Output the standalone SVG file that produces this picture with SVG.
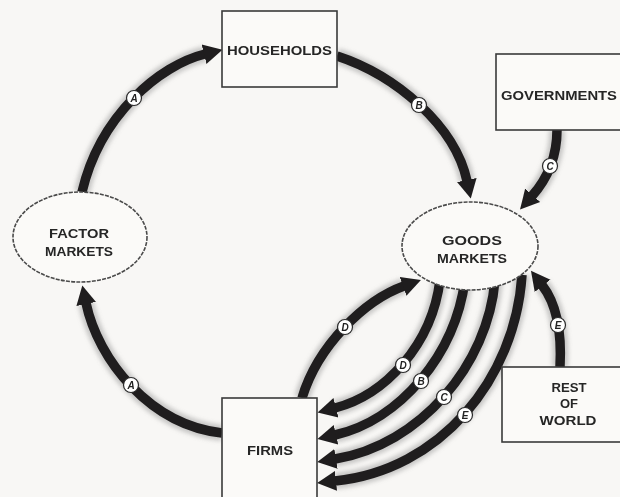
<svg xmlns="http://www.w3.org/2000/svg" width="620" height="497" viewBox="0 0 620 497">
  <style>
    .box { fill: #fbfaf8; stroke: #3a3a3a; stroke-width: 1.6; }
    .ell { fill: #fbfaf8; stroke: #4a4a4a; stroke-width: 1.6; stroke-dasharray: 4 1.2; }
    .lbl { font-family: "Liberation Sans", Arial, sans-serif; font-weight: bold; fill: #262626; text-anchor: middle; }
    .arr { fill: none; stroke: #1f1d1e; stroke-width: 9.5; marker-end: url(#ah); }
    .shd { fill: none; stroke: #8c8c8c; stroke-width: 16; opacity: 0.45; }
    .tag circle { fill: #ffffff; stroke: #2a2a2a; stroke-width: 1.2; }
    .tag text { font-family: "Liberation Sans", Arial, sans-serif; font-weight: bold; font-style: italic; font-size: 10px; fill: #222; text-anchor: middle; }
  </style>
  <defs>
    <marker id="ah" markerUnits="userSpaceOnUse" markerWidth="26" markerHeight="26" viewBox="0 -13 26 26" refX="1" refY="0" orient="auto">
      <path d="M0,-10 L19,0 L0,10 z" fill="#1f1d1e"/>
    </marker>
    <filter id="blur" x="-20%" y="-20%" width="140%" height="140%">
      <feGaussianBlur stdDeviation="2"/>
    </filter>
  </defs>
  <rect width="620" height="497" fill="#f8f7f5"/>

  <g id="shadows" filter="url(#blur)">
    <path class="shd" d="M 82 192 C 100 115, 160 65, 205 54"/>
    <path class="shd" d="M 337 56 C 395 75, 455 125, 467 181"/>
    <path class="shd" d="M 557 130 C 557 155, 548 178, 532 196"/>
    <path class="shd" d="M 560 367 C 562 330, 556 303, 542 285"/>
    <path class="shd" d="M 222 433 C 150 425, 98 360, 86 303"/>
    <path class="shd" d="M 302 398 C 318 345, 365 300, 404 286"/>
    <path class="shd" d="M 440 280 C 432 345, 385 395, 335 408"/>
    <path class="shd" d="M 465 280 C 455 355, 400 420, 335 435"/>
    <path class="shd" d="M 495 280 C 488 365, 420 445, 335 459"/>
    <path class="shd" d="M 522 275 C 515 380, 440 470, 335 481"/>
  </g>

  <g id="connectors">
    <path id="c-A1" class="arr" d="M 82 192 C 100 115, 160 65, 205 54"/>
    <path id="c-B1" class="arr" d="M 337 56 C 395 75, 455 125, 467 181"/>
    <path id="c-C1" class="arr" d="M 557 130 C 557 155, 548 178, 532 196"/>
    <path id="c-E1" class="arr" d="M 560 367 C 562 330, 556 303, 542 285"/>
    <path id="c-A2" class="arr" d="M 222 433 C 150 425, 98 360, 86 303"/>
    <path id="c-D1" class="arr" d="M 302 398 C 318 345, 365 300, 404 286"/>
    <path id="c-D2" class="arr" d="M 440 280 C 432 345, 385 395, 335 408"/>
    <path id="c-B2" class="arr" d="M 465 280 C 455 355, 400 420, 335 435"/>
    <path id="c-C2" class="arr" d="M 495 280 C 488 365, 420 445, 335 459"/>
    <path id="c-E2" class="arr" d="M 522 275 C 515 380, 440 470, 335 481"/>
    <g class="tag">
      <circle cx="134" cy="98" r="7.5"/><text x="134" y="101.6">A</text>
      <circle cx="419" cy="105" r="7.5"/><text x="419" y="108.6">B</text>
      <circle cx="550" cy="166" r="7.5"/><text x="550" y="169.6">C</text>
      <circle cx="558" cy="325" r="7.5"/><text x="558" y="328.6">E</text>
      <circle cx="131" cy="385" r="7.5"/><text x="131" y="388.6">A</text>
      <circle cx="345" cy="327" r="7.5"/><text x="345" y="330.6">D</text>
      <circle cx="403" cy="365" r="7.5"/><text x="403" y="368.6">D</text>
      <circle cx="421" cy="381" r="7.5"/><text x="421" y="384.6">B</text>
      <circle cx="444" cy="397" r="7.5"/><text x="444" y="400.6">C</text>
      <circle cx="465" cy="415" r="7.5"/><text x="465" y="418.6">E</text>
    </g>
  </g>

  <g id="households">
    <rect class="box" x="222" y="11" width="115" height="76"/>
    <text class="lbl" x="279.5" y="55" font-size="13.5" textLength="105" lengthAdjust="spacingAndGlyphs">HOUSEHOLDS</text>
  </g>
  <g id="governments">
    <rect class="box" x="496" y="54" width="140" height="76"/>
    <text class="lbl" x="559" y="100" font-size="13.5" textLength="116" lengthAdjust="spacingAndGlyphs">GOVERNMENTS</text>
  </g>
  <g id="factor-markets">
    <ellipse class="ell" cx="80" cy="237" rx="67" ry="45"/>
    <text class="lbl" x="79" y="238" font-size="12.5" textLength="60" lengthAdjust="spacingAndGlyphs">FACTOR</text>
    <text class="lbl" x="79" y="256" font-size="12.5" textLength="68" lengthAdjust="spacingAndGlyphs">MARKETS</text>
  </g>
  <g id="goods-markets">
    <ellipse class="ell" cx="470" cy="246" rx="68" ry="44"/>
    <text class="lbl" x="472" y="245" font-size="12.5" textLength="60" lengthAdjust="spacingAndGlyphs">GOODS</text>
    <text class="lbl" x="472" y="263" font-size="12.5" textLength="70" lengthAdjust="spacingAndGlyphs">MARKETS</text>
  </g>
  <g id="firms">
    <rect class="box" x="222" y="398" width="95" height="110"/>
    <text class="lbl" x="270" y="455" font-size="12.5" textLength="46" lengthAdjust="spacingAndGlyphs">FIRMS</text>
  </g>
  <g id="rest-of-world">
    <rect class="box" x="502" y="367" width="140" height="75"/>
    <text class="lbl" x="569" y="392" font-size="12.5" textLength="35" lengthAdjust="spacingAndGlyphs">REST</text>
    <text class="lbl" x="569" y="408" font-size="12.5" textLength="18" lengthAdjust="spacingAndGlyphs">OF</text>
    <text class="lbl" x="568" y="425" font-size="12.5" textLength="57" lengthAdjust="spacingAndGlyphs">WORLD</text>
  </g>
</svg>
